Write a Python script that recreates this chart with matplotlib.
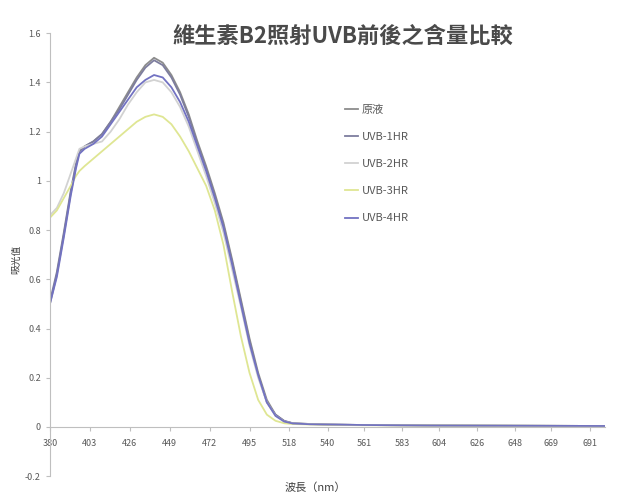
# -*- coding: utf-8 -*-
# 維生素B2 照射 UVB 前後之吸收光譜
import numpy as np
import matplotlib.pyplot as plt

plt.rcParams['font.family'] = ['Noto Sans CJK TC', 'DejaVu Sans']

# 波長 (nm)
wl = [380, 384, 388, 392, 395, 397, 400, 405, 410, 415, 420, 425, 430, 435, 440,
      445, 450, 455, 460, 465, 470, 475, 480, 485, 490, 495, 500, 505, 510, 515,
      520, 530, 540, 560, 600, 650, 700]

yuanye = [0.50, 0.62, 0.78, 0.95, 1.06, 1.12, 1.14, 1.16, 1.19, 1.24, 1.30, 1.36, 1.42, 1.47, 1.50,
          1.48, 1.43, 1.36, 1.27, 1.16, 1.06, 0.95, 0.83, 0.68, 0.52, 0.36, 0.22, 0.11, 0.05, 0.025,
          0.015, 0.012, 0.010, 0.008, 0.006, 0.005, 0.004]
uvb1 = [0.51, 0.63, 0.79, 0.96, 1.07, 1.12, 1.14, 1.16, 1.19, 1.24, 1.29, 1.35, 1.41, 1.46, 1.49,
        1.47, 1.42, 1.35, 1.26, 1.15, 1.05, 0.94, 0.82, 0.67, 0.51, 0.35, 0.21, 0.10, 0.05, 0.024,
        0.015, 0.012, 0.010, 0.008, 0.006, 0.005, 0.004]
uvb2 = [0.86, 0.89, 0.95, 1.03, 1.09, 1.13, 1.14, 1.15, 1.16, 1.20, 1.25, 1.31, 1.36, 1.40, 1.41,
        1.40, 1.36, 1.30, 1.22, 1.12, 1.02, 0.91, 0.79, 0.64, 0.49, 0.33, 0.20, 0.10, 0.045, 0.022,
        0.014, 0.011, 0.010, 0.008, 0.006, 0.005, 0.004]
uvb3 = [0.85, 0.88, 0.93, 0.98, 1.02, 1.04, 1.06, 1.09, 1.12, 1.15, 1.18, 1.21, 1.24, 1.26, 1.27,
        1.26, 1.23, 1.18, 1.12, 1.05, 0.98, 0.88, 0.74, 0.55, 0.37, 0.22, 0.11, 0.05, 0.025, 0.015,
        0.012, 0.010, 0.009, 0.007, 0.006, 0.005, 0.004]
uvb4 = [0.50, 0.61, 0.77, 0.94, 1.05, 1.11, 1.13, 1.15, 1.18, 1.23, 1.28, 1.33, 1.38, 1.41, 1.43,
        1.42, 1.38, 1.32, 1.24, 1.14, 1.04, 0.93, 0.81, 0.66, 0.50, 0.34, 0.21, 0.10, 0.045, 0.022,
        0.014, 0.011, 0.010, 0.008, 0.006, 0.005, 0.004]

series = [('原液', yuanye, '#8c8c8c'),
          ('UVB-1HR', uvb1, '#7d7d9e'),
          ('UVB-2HR', uvb2, '#d2d2d2'),
          ('UVB-3HR', uvb3, '#dfe693'),
          ('UVB-4HR', uvb4, '#7272c2')]

xtick_vals = [380, 403, 426, 449, 472, 495, 518, 540, 561, 583, 604, 626, 648, 669, 691]
ytick_vals = [-0.2, 0, 0.2, 0.4, 0.6, 0.8, 1, 1.2, 1.4, 1.6]
ytick_labels = ['-0.2', '0', '0.2', '0.4', '0.6', '0.8', '1', '1.2', '1.4', '1.6']

fig = plt.figure(figsize=(6.24, 4.95), dpi=100)
ax = fig.add_axes([0.080, 0.038, 0.890, 0.895])

for name, vals, col in series:
    ax.plot(wl, vals, color=col, linewidth=1.3, label=name)

ax.set_xlim(380, 700)
ax.set_ylim(-0.2, 1.6)
ax.set_xticks(xtick_vals)
ax.set_xticklabels([str(v) for v in xtick_vals])
ax.set_yticks(ytick_vals)
ax.set_yticklabels(ytick_labels)

for s in ['top', 'right']:
    ax.spines[s].set_visible(False)
ax.spines['bottom'].set_position(('data', 0))
ax.spines['bottom'].set_color('#bfbfbf')
ax.spines['left'].set_color('#bfbfbf')
ax.tick_params(axis='both', labelsize=6.5, colors='#595959', length=3, color='#bfbfbf')
ax.tick_params(axis='x', pad=6)

fig.text(0.550, 0.927, '維生素B2照射UVB前後之含量比較', ha='center', va='center',
         fontsize=16, fontweight='bold', color='#4a4a4a')
fig.text(0.505, 0.014, '波長（nm）', ha='center', va='center', fontsize=8, color='#404040')
fig.text(0.026, 0.475, '吸光值', ha='center', va='center', rotation=90, fontsize=7, color='#404040')

ax.legend(loc='upper left', bbox_to_anchor=(0.514, 0.862), frameon=False, fontsize=8,
          labelspacing=1.55, handlelength=1.1, handletextpad=0.4, labelcolor='#595959')

plt.savefig('out.png', dpi=100)
